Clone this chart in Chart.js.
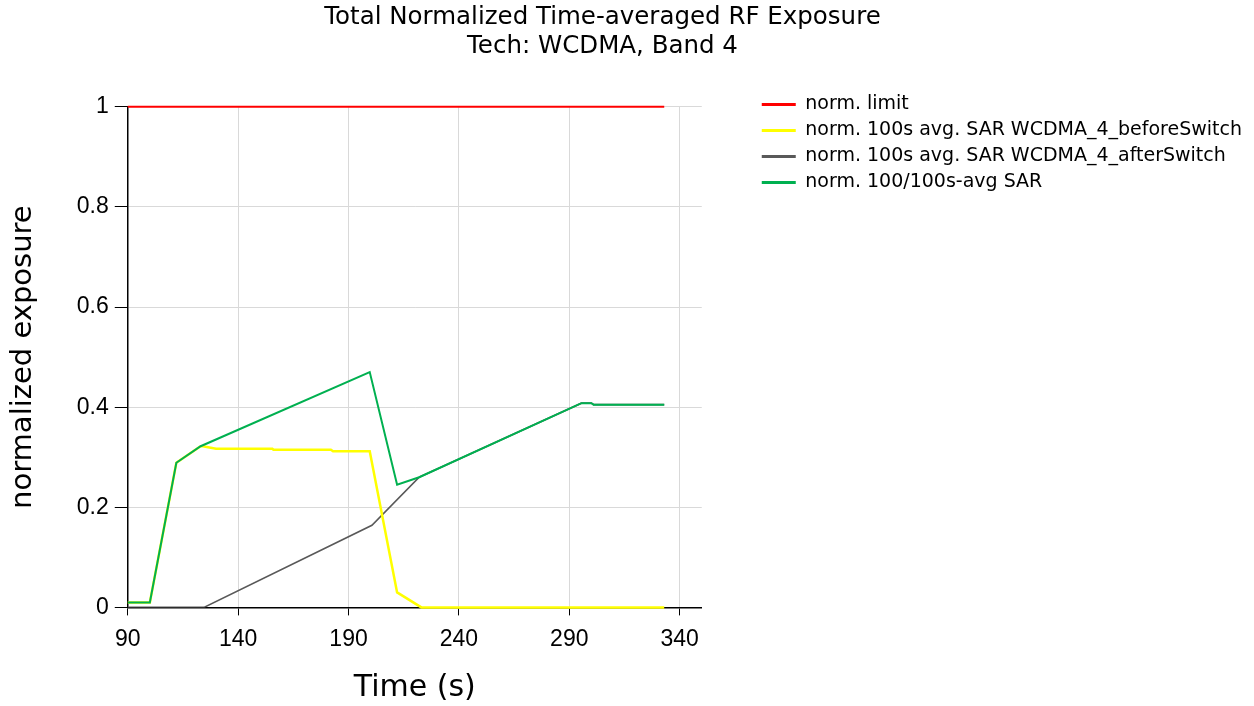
<!DOCTYPE html>
<html>
<head>
<meta charset="utf-8">
<script src="https://cdn.jsdelivr.net/npm/chart.js@4/dist/chart.umd.min.js"></script>
<style>
  html, body { margin: 0; padding: 0; background: #ffffff; }
  #wrap { width: 1254px; height: 706px; position: relative; }
</style>
</head>
<body>
<div id="wrap"><canvas id="c" width="1254" height="706"></canvas></div>
<script>
// ---- data ----
const seriesNames = [
  "norm. limit",
  "norm. 100s avg. SAR WCDMA_4_beforeSwitch",
  "norm. 100s avg. SAR WCDMA_4_afterSwitch",
  "norm. 100/100s-avg SAR"
];
const timeLimit = [90, 333];
const valLimit  = [1, 1];

const timeBefore = [90, 100, 112, 123, 124, 130, 155.5, 156, 182, 183, 199.6, 212, 223, 333];
const valBefore  = [0.01, 0.01, 0.289, 0.322, 0.322, 0.317, 0.317, 0.315, 0.315, 0.312, 0.312, 0.03, 0, 0];

const timeAfter = [90, 124.5, 200.6, 222, 295.5, 300, 301, 333];
const valAfter  = [0, 0, 0.164, 0.26, 0.408, 0.408, 0.405, 0.405];

const timeTotal = [90, 100, 112, 123, 199.6, 212, 222, 295.5, 300, 301, 333];
const valTotal  = [0.01, 0.01, 0.289, 0.322, 0.47, 0.245, 0.26, 0.408, 0.408, 0.405, 0.405];

const xTicks = [90, 140, 190, 240, 290, 340];
const yTicks = [0, 0.2, 0.4, 0.6, 0.8, 1];
const yTickLabels = ["0", "0.2", "0.4", "0.6", "0.8", "1"];

const colors = ["#ff0000", "#ffff00", "#595959", "#00b050"];

function pts(xs, ys) { return xs.map((x, i) => ({ x: x, y: ys[i] })); }

const legendShift = {
  id: "legendShift",
  afterLayout(chart) {
    const lg = chart.legend;
    if (!lg) return;
    const dx = 53, dy = 88;
    lg.left += dx; lg.right += dx;
    lg.top += dy; lg.bottom += dy;
  }
};

new Chart(document.getElementById("c"), {
  type: "line",
  data: {
    datasets: [
      { label: seriesNames[0], data: pts(timeLimit, valLimit), borderColor: colors[0], backgroundColor: colors[0], borderWidth: 2, order: -1, clip: false },
      { label: seriesNames[1], data: pts(timeBefore, valBefore), borderColor: colors[1], backgroundColor: colors[1], borderWidth: 2.5, order: 1, clip: false },
      { label: seriesNames[2], data: pts(timeAfter, valAfter), borderColor: colors[2], backgroundColor: colors[2], borderWidth: 1.6, order: 2 },
      { label: seriesNames[3], data: pts(timeTotal, valTotal), borderColor: colors[3], backgroundColor: colors[3], borderWidth: 2, order: 0 }
    ]
  },
  options: {
    responsive: false,
    animation: false,
    elements: { point: { radius: 0, hoverRadius: 0 }, line: { tension: 0 } },
    layout: { padding: { left: 6, right: 55, top: 0, bottom: 0 } },
    plugins: {
      title: {
        display: true,
        text: ["Total Normalized Time-averaged RF Exposure", "Tech: WCDMA, Band 4"],
        color: "#000000",
        font: { family: "DejaVu Sans", size: 24.5, weight: "normal", lineHeight: 1.18 },
        padding: { top: 3, bottom: 46 }
      },
      legend: {
        position: "right",
        align: "start",
        maxWidth: 800,
        labels: {
          boxWidth: 34,
          boxHeight: 3,
          padding: 7,
          color: "#000000",
          font: { family: "DejaVu Sans", size: 19 },
          sort: (a, b) => a.datasetIndex - b.datasetIndex,
          generateLabels: (chart) => Chart.defaults.plugins.legend.labels.generateLabels(chart).map(l => Object.assign(l, { lineWidth: 0 }))
        }
      },
      tooltip: { enabled: false }
    },
    scales: {
      x: {
        type: "linear",
        min: 90,
        max: 350,
        afterBuildTicks: (scale) => { scale.ticks = xTicks.map(v => ({ value: v })); },
        grid: { color: "#d9d9d9", lineWidth: 1, tickColor: "#000000", tickLength: 8, drawTicks: true },
        border: { color: "#000000", width: 1.5 },
        ticks: { color: "#000000", font: { family: "Liberation Sans", size: 23 }, padding: 10, maxRotation: 0 },
        title: { display: true, text: "Time (s)", color: "#000000", font: { family: "DejaVu Sans", size: 30 }, padding: { top: 7, bottom: 0 } }
      },
      y: {
        type: "linear",
        min: 0,
        max: 1,
        afterBuildTicks: (scale) => { scale.ticks = yTicks.map(v => ({ value: v })); },
        grid: { color: "#d9d9d9", lineWidth: 1, tickColor: "#000000", tickLength: 13, drawTicks: true },
        border: { color: "#000000", width: 1.5 },
        ticks: { color: "#000000", font: { family: "Liberation Sans", size: 23 }, padding: 6,
                 callback: (v, i) => yTickLabels[i] },
        title: { display: true, text: "normalized exposure", color: "#000000", font: { family: "DejaVu Sans", size: 29 }, padding: { top: 0, bottom: 30 } }
      }
    }
  },
  plugins: [legendShift]
});
</script>
</body>
</html>
